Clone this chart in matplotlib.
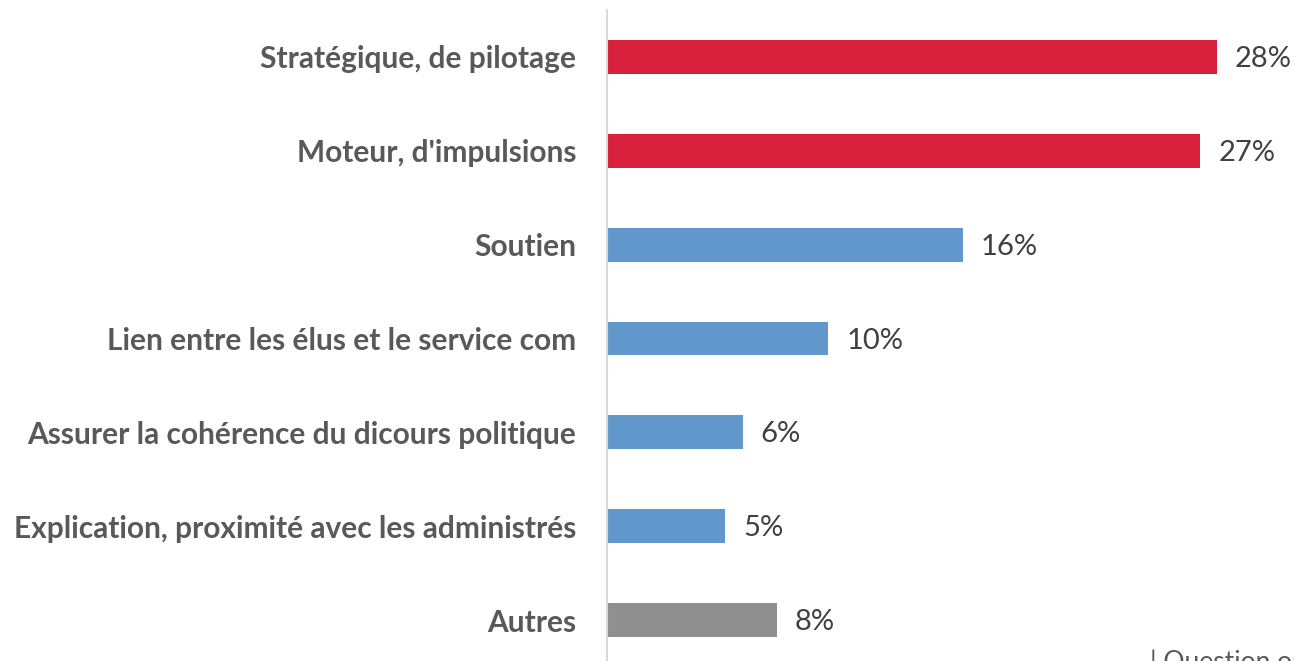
import matplotlib.pyplot as plt

# Data (top to bottom)
categories = [
    "Stratégique, de pilotage",
    "Moteur, d'impulsions",
    "Soutien",
    "Lien entre les élus et le service com",
    "Assurer la cohérence du dicours politique",
    "Explication, proximité avec les administrés",
    "Autres",
]
values = [27.85, 27.1, 16.25, 10.1, 6.2, 5.4, 7.75]
value_labels = ["28%", "27%", "16%", "10%", "6%", "5%", "8%"]
bar_colors = ["#D9213D", "#D9213D", "#6197CB", "#6197CB", "#6197CB", "#6197CB", "#8F8F8F"]

plt.rcParams['font.family'] = ['Lato', 'DejaVu Sans']

fig = plt.figure(figsize=(12.94, 6.61), dpi=100)
ax = fig.add_axes([607 / 1294, -6 / 661, 1 - 607 / 1294, 657 / 661])

ypos = list(range(len(categories)))
ax.barh(ypos, values, height=0.36, color=bar_colors, zorder=2)
ax.set_ylim(len(categories) - 0.5, -0.5)
ax.set_xlim(0, 687 / 21.9)

# value labels
for y, v, lab in zip(ypos, values, value_labels):
    ax.annotate(lab, (v, y), xytext=(13, -1.5), textcoords='offset points',
                va='center', ha='left', fontsize=21, color='#404040')

ax.set_yticks(ypos)
ax.set_yticklabels(categories, fontsize=21.5, fontweight='bold', color='#595959')
ax.tick_params(axis='y', length=0, pad=22)
ax.set_xticks([])

for side in ['top', 'right', 'bottom']:
    ax.spines[side].set_visible(False)
ax.spines['left'].set_color('#D9D9D9')
ax.spines['left'].set_linewidth(1.5)

# footnote, partly off the canvas as in the original export
fig.text(1150 / 1294, -14 / 661, "| Question ouverte", fontsize=19, color='#595959',
         ha='left', va='bottom')

fig.savefig('out.png', dpi=100)
